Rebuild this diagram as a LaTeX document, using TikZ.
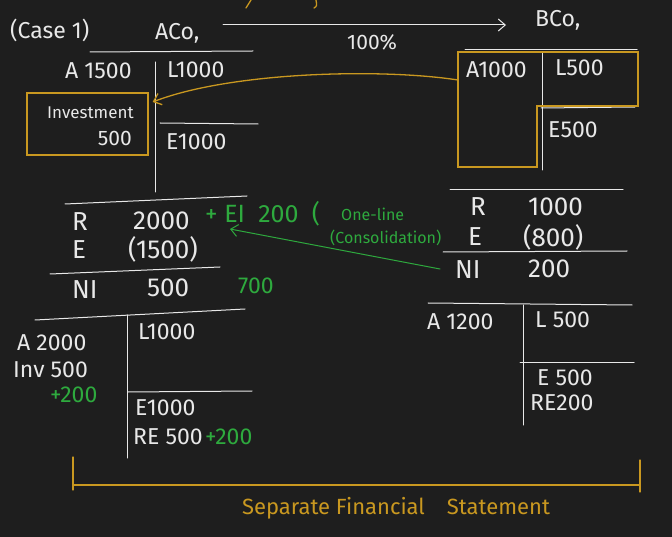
\documentclass[tikz,border=0pt]{standalone}
\usepackage{fontspec}
\setmainfont{Fira Sans}
\usetikzlibrary{arrows.meta}
\definecolor{board}{RGB}{30,30,30}
\definecolor{chalk}{RGB}{232,232,232}
\definecolor{gold}{RGB}{201,152,32}
\definecolor{pen}{RGB}{46,170,62}
\tikzset{
  ink/.style={chalk, line width=1pt, line cap=round},
  goldline/.style={gold, line width=1.3pt, line cap=round},
  greenline/.style={pen, line width=1pt, line cap=round},
  txt/.style={text=chalk, inner sep=0pt, font=\fontsize{23}{25}\selectfont},
  big/.style={font=\fontsize{26}{28}\selectfont},
  gtxt/.style={text=pen, inner sep=0pt, font=\fontsize{23}{25}\selectfont},
  gsmall/.style={text=pen, inner sep=0pt, font=\fontsize{16}{17}\selectfont},
  barb/.style={-{Straight Barb[length=7pt,width=12pt]}}
}
\begin{document}
\begin{tikzpicture}[x=1pt,y=-1pt]
\fill[board] (0,0) rectangle (672,537);
\useasboundingbox (0,0) rectangle (672,537);
% heading
\node[txt,anchor=west] (case) at (10,30) {(Case 1)};
\node[txt,anchor=west] (aco) at (155,33) {ACo,};
\node[txt,anchor=west] (bco) at (535,20) {BCo,};
\coordinate (pctA) at (223,25);
\coordinate (pctB) at (506,25);
\draw[ink,barb] (pctA) -- (pctB);
\node[txt,anchor=west,font=\fontsize{21}{23}\selectfont] (pct) at (347,42) {100\%};
\draw[goldline] (246,8) -- (251,0);
\draw[goldline] (316,0) .. controls (317,6) .. (314,8);
% ACo balance sheet
\draw[ink] (90,52) -- (253,51);
\draw[ink] (155,62) -- (155,192);
\draw[ink] (160,123) -- (258,124);
\node[txt,anchor=west] (aA) at (65,71) {A 1500};
\node[txt,anchor=west] (aL) at (167,70) {L1000};
\node[txt,anchor=west] (aE) at (166,142) {E1000};
\node[draw=gold,line width=1.3pt,minimum width=121pt,minimum height=62pt] (inv) at (87.5,124) {};
\node[txt,anchor=west,font=\fontsize{17}{18}\selectfont] (invT) at (47,113) {Investment};
\node[txt,anchor=east,font=\fontsize{21}{23}\selectfont] (invV) at (132,138) {500};
% BCo balance sheet
\draw[ink] (465,50) -- (637,50);
\draw[ink] (542,53) -- (542,170);
\draw[ink] (541,108) -- (635,107);
\draw[goldline] (458,52) -- (638,52) -- (638,106) -- (537,106) -- (537,167) -- (458,167) -- cycle;
\node[txt,anchor=west] (bA) at (466,70) {A1000};
\node[txt,anchor=west] (bL) at (555,68) {L500};
\node[txt,anchor=west] (bE) at (548,130) {E500};
\coordinate (bbox) at (458,80);
\draw[goldline,barb] (bbox) .. controls (380,68) and (230,72) .. ([shift={(4,-22)}]inv.east);
% ACo income statement
\draw[ink] (65,204) -- (247,196);
\node[txt,big,anchor=west] (aR) at (72,222) {R};
\node[txt,big,anchor=west] (aRv) at (133,221) {2000};
\node[txt,big,anchor=west] (aX) at (72,250) {E};
\node[txt,big,anchor=west] (aXv) at (128,249) {(1500)};
\draw[ink] (50,274) -- (220,267);
\node[txt,big,anchor=west] (aNI) at (72,290) {NI};
\node[txt,big,anchor=west] (aNIv) at (147,288) {500};
\node[gtxt,anchor=west] (aNIg) at (238,286) {700};
\node[gtxt,anchor=west,font=\fontsize{25}{27}\selectfont] (ei) at (205,214) {+ EI\ \ 200\ \ (};
\node[gsmall,anchor=west] (one) at (341,214) {One-line};
\node[gsmall,anchor=west] (cons) at (330,238) {(Consolidation)};
% BCo income statement
\draw[ink] (450,190) -- (623,190);
\node[txt,big,anchor=west] (bR) at (470,207) {R};
\node[txt,big,anchor=west] (bRv) at (528,207) {1000};
\node[txt,big,anchor=west] (bX) at (468,237) {E};
\node[txt,big,anchor=west] (bXv) at (523,237) {(800)};
\draw[ink] (443,252) -- (627,251);
\node[txt,big,anchor=west] (bNI) at (455,270) {NI};
\node[txt,big,anchor=west] (bNIv) at (528,269) {200};
\coordinate (niR) at (440,269);
\coordinate (eiL) at (230,229);
\draw[greenline,barb] (niR) -- (eiL);
% ACo balance sheet after
\draw[ink] (35,320) -- (245,309);
\draw[ink] (127,315) -- (127,458);
\draw[ink] (128,392) -- (252,391);
\node[txt,anchor=west] (cA) at (17,343) {A 2000};
\node[txt,anchor=west] (cInv) at (13,370) {Inv 500};
\node[gtxt,anchor=west] (cInvg) at (50,395) {+200};
\node[txt,anchor=west] (cL) at (138,332) {L1000};
\node[txt,anchor=west] (cE) at (135,408) {E1000};
\node[txt,anchor=west] (cRE) at (133,437) {RE 500};
\node[gtxt,anchor=west] (cREg) at (205,437) {+200};
% BCo balance sheet after
\draw[ink] (428,303) -- (632,305);
\draw[ink] (523,305) -- (523,425);
\draw[ink] (520,362) -- (634,362);
\node[txt,anchor=west] (dA) at (427,322) {A 1200};
\node[txt,anchor=west] (dL) at (535,320) {L 500};
\node[txt,anchor=west] (dE) at (537,378) {E 500};
\node[txt,anchor=west] (dRE) at (530,403) {RE200};
% bracket
\draw[goldline] (73,457) -- (73,490);
\draw[goldline] (73,485) -- (640,485);
\draw[goldline] (640,460) -- (640,492);
\node[text=gold,inner sep=0pt,font=\fontsize{22}{24}\selectfont] (sep) at (396,508) {Separate Financial\quad Statement};
\end{tikzpicture}
\end{document}
